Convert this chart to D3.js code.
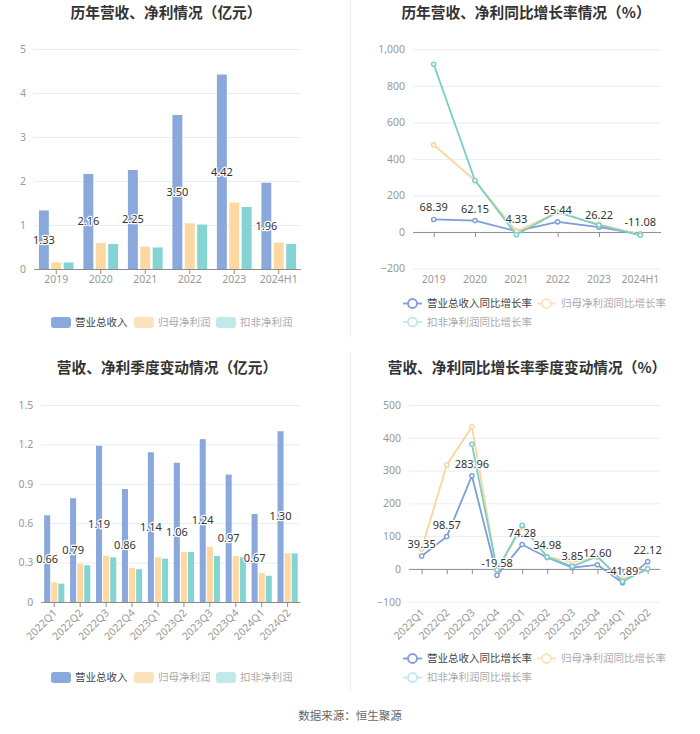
<!DOCTYPE html>
<html><head><meta charset="utf-8">
<script src="https://cdn.jsdelivr.net/npm/d3@7"></script>
<style>
body{margin:0;background:#fff}
svg{display:block;font-family:"Noto Sans CJK SC","Noto Sans",sans-serif}
</style>
</head><body>
<svg id="c" width="700" height="734"></svg>
<script>
// ---------------- DATA ----------------
const years = ["2019","2020","2021","2022","2023","2024H1"];
const annualRevenue = [1.33,2.16,2.25,3.50,4.42,1.96];
const annualNetProfit = [0.15,0.59,0.51,1.04,1.51,0.60];
const annualDeductedProfit = [0.15,0.57,0.49,1.01,1.41,0.57];
const annualAmountTicks = [0,1,2,3,4,5];

const annualRevenueGrowth = [68.39,62.15,4.33,55.44,26.22,-11.08];
const annualNetProfitGrowth = [477,282,2,107,42,-15];
const annualDeductedGrowth = [918,282,-15,109,38,-18];
const annualGrowthTicks = [-200,0,200,400,600,800,1000];

const quarters = ["2022Q1","2022Q2","2022Q3","2022Q4","2023Q1","2023Q2","2023Q3","2023Q4","2024Q1","2024Q2"];
const quarterRevenue = [0.66,0.79,1.19,0.86,1.14,1.06,1.24,0.97,0.67,1.30];
const quarterNetProfit = [0.15,0.29,0.35,0.26,0.34,0.38,0.42,0.35,0.22,0.37];
const quarterDeductedProfit = [0.14,0.28,0.34,0.25,0.33,0.38,0.35,0.34,0.20,0.37];
const quarterAmountTicks = [0,0.3,0.6,0.9,1.2,1.5];

const quarterRevenueGrowth = [39.35,98.57,283.96,-19.58,74.28,34.98,3.85,12.60,-41.89,22.12];
const quarterNetProfitGrowth = [61,317,434,-5,128,37,21,35,-32,1];
const quarterDeductedGrowth = [null,null,380,-3,133,36,8,38,-38,0];
const quarterGrowthTicks = [-100,0,100,200,300,400,500];

const barNames = ["营业总收入","归母净利润","扣非净利润"];
const lineNames = ["营业总收入同比增长率","归母净利润同比增长率","扣非净利润同比增长率"];
const titles = ["历年营收、净利情况（亿元）","历年营收、净利同比增长率情况（%）","营收、净利季度变动情况（亿元）","营收、净利同比增长率季度变动情况（%）"];
const sourceText = "数据来源：恒生聚源";

// ---------------- STYLE ----------------
const barColors = ["#8aa8db","#fdd9a1","#84d4d4"];
const barLegendColors = ["#8aa8db","#fde3bd","#c0eaea"];
const lineColors = ["#7f9dd6","#fdd49c","#76cfc8"];
const lineLegendColors = ["#7f9dd6","#fde2b9","#bfe8ee"];
const legendTextColors = ["#444","#aaa","#aaa"];

const svg = d3.select("#c");

// dividers
svg.append("line").attr("x1",350.5).attr("x2",350.5).attr("y1",0).attr("y2",338).attr("stroke","#f0f0f0");
svg.append("line").attr("x1",350.5).attr("x2",350.5).attr("y1",352).attr("y2",692).attr("stroke","#f0f0f0");

function yAxis(g, y, ticks, x0, x1, fmt){
  const ax = g.append("g").attr("transform",`translate(${x0},0)`)
    .call(d3.axisLeft(y).tickValues(ticks).tickSize(-(x1-x0)).tickPadding(8).tickFormat(fmt));
  ax.select(".domain").remove();
  ax.selectAll(".tick line").attr("stroke","#e9ecf1");
  ax.selectAll(".tick text").attr("fill","#999").attr("font-size","10.5px")
    .attr("font-family","'Noto Sans','Noto Sans CJK SC',sans-serif");
}

function title(g, text, cx, cy){
  g.append("text").attr("x",cx).attr("y",cy).attr("dy","0.35em").attr("text-anchor","middle")
    .attr("font-size","14.7px").attr("font-weight","bold").attr("fill","#333").text(text);
}

function xLabels(g, cats, xc, yb, rotate){
  const t = g.append("g").selectAll("text").data(cats).join("text")
    .attr("fill","#999").attr("font-size","10.5px")
    .attr("font-family","'Noto Sans','Noto Sans CJK SC',sans-serif").text(d=>d);
  if(rotate){
    t.attr("text-anchor","end").attr("dy","0.35em")
     .attr("transform",d=>`translate(${xc(d)+1},${yb+9}) rotate(-45)`);
  } else {
    t.attr("text-anchor","middle").attr("dy","0.35em").attr("x",d=>xc(d)).attr("y",yb+10.5);
  }
}

function valueLabel(sel){
  sel.attr("text-anchor","middle").attr("font-size","11px").attr("fill","#333")
    .attr("stroke","#fff").attr("stroke-width",2.5).attr("paint-order","stroke")
    .attr("stroke-linejoin","round")
    .attr("font-family","'Noto Sans','Noto Sans CJK SC',sans-serif");
}

function barChart(cfg){
  const g = svg.append("g");
  const y = d3.scaleLinear().domain([cfg.ticks[0], cfg.ticks[cfg.ticks.length-1]]).range([cfg.y0, cfg.y1]);
  const x = d3.scaleBand().domain(cfg.cats).range([cfg.x0, cfg.x1]);
  const bw = x.bandwidth();
  const sub = d3.scaleBand().domain(d3.range(cfg.series.length)).range([bw*0.11, bw*0.89]).paddingInner(cfg.inner);
  yAxis(g, y, cfg.ticks, cfg.x0, cfg.x1, cfg.fmt);
  cfg.series.forEach((vals,i)=>{
    g.append("g").selectAll("rect").data(vals).join("rect")
      .attr("x",(d,j)=>x(cfg.cats[j])+sub(i)).attr("width",sub.bandwidth())
      .attr("y",d=>y(d)).attr("height",d=>y(0)-y(d)).attr("fill",barColors[i]);
  });
  const ax = g.append("g").attr("transform",`translate(0,${y(0)})`)
    .call(d3.axisBottom(x).tickSize(5).tickFormat(""));
  ax.select(".domain").attr("stroke","#8c8c8c").attr("d",`M${cfg.x0},0.5H${cfg.x1}`);
  ax.selectAll(".tick line").attr("stroke","#8c8c8c");
  xLabels(g, cfg.cats, d=>x(d)+bw/2, y(0), cfg.rotate);
  g.append("g").selectAll("text").data(cfg.series[0]).join("text")
    .attr("x",(d,j)=>x(cfg.cats[j])+sub(0)+sub.bandwidth()/2)
    .attr("y",d=>(y(d)+y(0))/2).attr("dy","0.35em")
    .call(valueLabel).text(d=>d.toFixed(2));
  title(g, cfg.title, cfg.tx, cfg.ty);
  const lg = g.append("g");
  cfg.legendX.forEach((lx,i)=>{
    lg.append("rect").attr("x",lx).attr("y",cfg.ly-5.5).attr("width",20).attr("height",11)
      .attr("rx",3).attr("fill",barLegendColors[i]);
    lg.append("text").attr("x",lx+24).attr("y",cfg.ly).attr("dy","0.35em")
      .attr("font-size","10.5px").attr("fill",legendTextColors[i]).text(barNames[i]);
  });
}

function lineChart(cfg){
  const g = svg.append("g");
  const y = d3.scaleLinear().domain([cfg.ticks[0], cfg.ticks[cfg.ticks.length-1]]).range([cfg.y0, cfg.y1]);
  const x = d3.scalePoint().domain(cfg.cats).range([cfg.x0, cfg.x1]).padding(0.5);
  yAxis(g, y, cfg.ticks, cfg.x0, cfg.x1, cfg.fmt);
  const ax = g.append("g").attr("transform",`translate(0,${y(0)})`)
    .call(d3.axisBottom(x).tickSize(5).tickFormat(""));
  ax.select(".domain").attr("stroke","#8c8c8c").attr("d",`M${cfg.x0},0.5H${cfg.x1}`);
  ax.selectAll(".tick line").attr("stroke","#8c8c8c");
  xLabels(g, cfg.cats, d=>x(d), cfg.y0, cfg.rotate);
  cfg.series.forEach((vals,i)=>{
    const pts = vals.map((v,j)=>({c:cfg.cats[j], v}));
    const line = d3.line().defined(d=>d.v!=null).x(d=>x(d.c)).y(d=>y(d.v));
    g.append("path").datum(pts).attr("d",line).attr("fill","none")
      .attr("stroke",lineColors[i]).attr("stroke-width",1.8).attr("stroke-linejoin","round");
    g.append("g").selectAll("circle").data(pts.filter(d=>d.v!=null)).join("circle")
      .attr("cx",d=>x(d.c)).attr("cy",d=>y(d.v)).attr("r",2.1)
      .attr("fill","#fff").attr("stroke",lineColors[i]).attr("stroke-width",1.4);
  });
  g.append("g").selectAll("text").data(cfg.series[0]).join("text")
    .attr("x",(d,j)=>x(cfg.cats[j])).attr("y",d=>y(d)-8)
    .call(valueLabel).text(d=>d.toFixed(2));
  title(g, cfg.title, cfg.tx, cfg.ty);
  const lg = g.append("g");
  cfg.legendPos.forEach((p,i)=>{
    lg.append("line").attr("x1",p[0]).attr("x2",p[0]+19).attr("y1",p[1]).attr("y2",p[1])
      .attr("stroke",lineLegendColors[i]).attr("stroke-width",1.8);
    lg.append("circle").attr("cx",p[0]+9.5).attr("cy",p[1]).attr("r",4.5)
      .attr("fill","#fff").attr("stroke",lineLegendColors[i]).attr("stroke-width",1.8);
    lg.append("text").attr("x",p[0]+24).attr("y",p[1]).attr("dy","0.35em")
      .attr("font-size","10.5px").attr("fill",legendTextColors[i]).text(lineNames[i]);
  });
}

const fmtNum = d3.format(",");
const fmtQ = d => d===0 ? "0" : d3.format(".1f")(d);

barChart({cats:years, series:[annualRevenue,annualNetProfit,annualDeductedProfit], ticks:annualAmountTicks,
  fmt:d3.format("d"), x0:34, x1:301, y0:269, y1:49, inner:0.2, rotate:false,
  title:titles[0], tx:166, ty:13, legendX:[51,134,216], ly:322.5});

lineChart({cats:years, series:[annualRevenueGrowth,annualNetProfitGrowth,annualDeductedGrowth], ticks:annualGrowthTicks,
  fmt:fmtNum, x0:413, x1:661, y0:268.5, y1:49.3, rotate:false,
  title:titles[1], tx:526, ty:13, legendPos:[[403,303.5],[537,303.5],[403,322]]});

barChart({cats:quarters, series:[quarterRevenue,quarterNetProfit,quarterDeductedProfit], ticks:quarterAmountTicks,
  fmt:fmtQ, x0:41.3, x1:300.6, y0:602, y1:405, inner:0.15, rotate:true,
  title:titles[2], tx:167, ty:368, legendX:[51,134,216], ly:677.5});

lineChart({cats:quarters, series:[quarterRevenueGrowth,quarterNetProfitGrowth,quarterDeductedGrowth], ticks:quarterGrowthTicks,
  fmt:d3.format("d"), x0:409.1, x1:660.2, y0:601.7, y1:405, rotate:true,
  title:titles[3], tx:527, ty:368, legendPos:[[403,658.5],[537,658.5],[403,677.5]]});

svg.append("text").attr("x",350).attr("y",716).attr("dy","0.35em").attr("text-anchor","middle")
  .attr("font-size","11.5px").attr("fill","#666").text(sourceText);
</script>
</body></html>
